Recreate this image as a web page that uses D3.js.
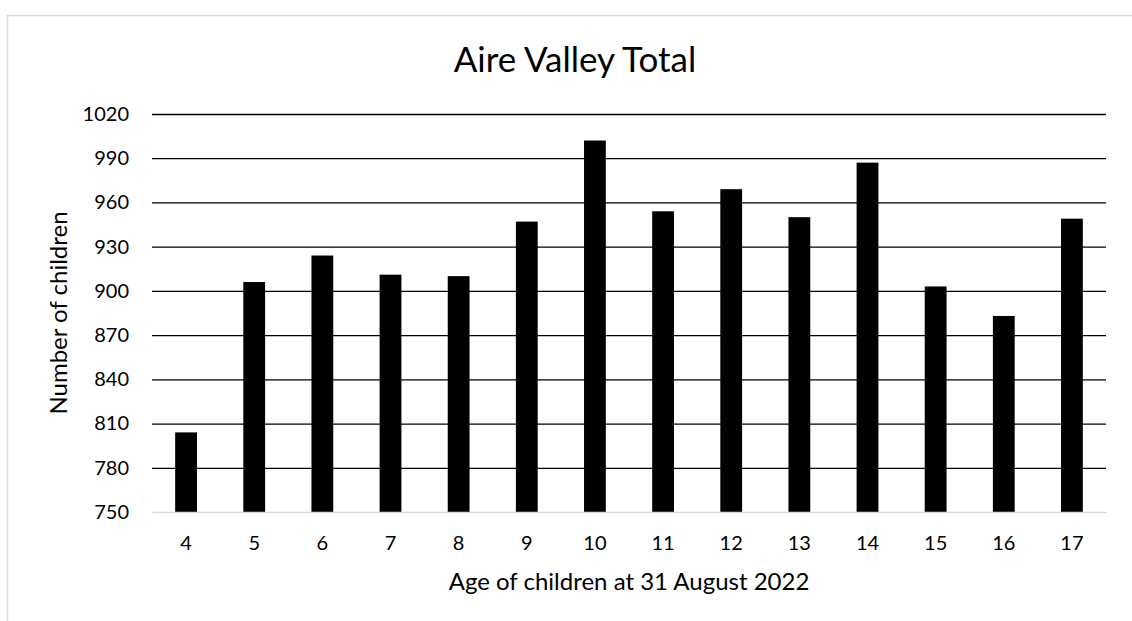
<!DOCTYPE html>
<html lang="en">
<head>
  <meta charset="UTF-8">
  <title>Aire Valley Total</title>
  <style>
    body { margin: 0; background: #fff; }
    text { font-family: Lato, "Open Sans", sans-serif; fill: #000; }
    .tick text { font-size: 20px; }
  </style>
</head>
<body>
  <div class="chart"></div>
  <script src="https://cdnjs.cloudflare.com/ajax/libs/d3/7.8.5/d3.min.js"></script>
  <script>
    // data
    const ages = [4, 5, 6, 7, 8, 9, 10, 11, 12, 13, 14, 15, 16, 17];
    const children = [804, 906, 924, 911, 910, 947, 1002, 954, 969, 950, 987, 903, 883, 949];
    const yTicks = [750, 780, 810, 840, 870, 900, 930, 960, 990, 1020];

    const chartTitle = 'Aire Valley Total';
    const xTitle = 'Age of children at 31 August 2022';
    const yTitle = 'Number of children';

    const W = 1132, H = 621;
    const plot = { left: 152, right: 1106, top: 114, bottom: 512 };

    const svg = d3.select('.chart')
      .append('svg')
      .attr('width', W)
      .attr('height', H);

    // chart frame (runs off the right and bottom of the picture)
    svg.append('rect')
      .attr('x', 7.5)
      .attr('y', 15.5)
      .attr('width', 1200)
      .attr('height', 700)
      .style('fill', 'none')
      .style('stroke', '#d9d9d9')
      .style('stroke-width', 1.5);

    const x = d3.scaleBand()
      .domain(ages)
      .range([plot.left, plot.right])
      .paddingInner(0.68)
      .paddingOuter(0.34);

    const y = d3.scaleLinear()
      .domain([750, 1020])
      .range([plot.bottom, plot.top]);

    // gridlines + y labels
    const yAxis = svg.append('g')
      .attr('transform', 'translate(' + plot.left + ',0)')
      .call(d3.axisLeft(y)
        .tickValues(yTicks)
        .tickSize(-(plot.right - plot.left))
        .tickPadding(23)
        .tickFormat(d3.format('d')));
    yAxis.select('.domain').remove();
    yAxis.selectAll('.tick line')
      .style('stroke', d => d === 750 ? 'none' : '#000')
      .style('stroke-width', 1.3);

    // bars
    svg.append('g')
      .selectAll('rect')
      .data(ages)
      .join('rect')
      .attr('x', (d) => x(d))
      .attr('y', (d, i) => y(children[i]))
      .attr('width', x.bandwidth())
      .attr('height', (d, i) => y(750) - y(children[i]))
      .style('fill', '#000');

    // category axis
    const xAxis = svg.append('g')
      .attr('transform', 'translate(0,' + plot.bottom + ')')
      .call(d3.axisBottom(x).tickSize(0).tickPadding(24));
    xAxis.select('.domain')
      .style('stroke', '#d9d9d9')
      .style('stroke-width', 1.3);

    svg.append('text')
      .attr('x', 575)
      .attr('y', 72)
      .attr('text-anchor', 'middle')
      .style('font-size', '35px')
      .text(chartTitle);

    svg.append('text')
      .attr('x', (plot.left + plot.right) / 2)
      .attr('y', 590)
      .attr('text-anchor', 'middle')
      .style('font-size', '24px')
      .text(xTitle);

    svg.append('text')
      .attr('transform', 'translate(67,' + (plot.top + plot.bottom) / 2 + ') rotate(-90)')
      .attr('text-anchor', 'middle')
      .style('font-size', '24px')
      .text(yTitle);
  </script>
</body>
</html>
